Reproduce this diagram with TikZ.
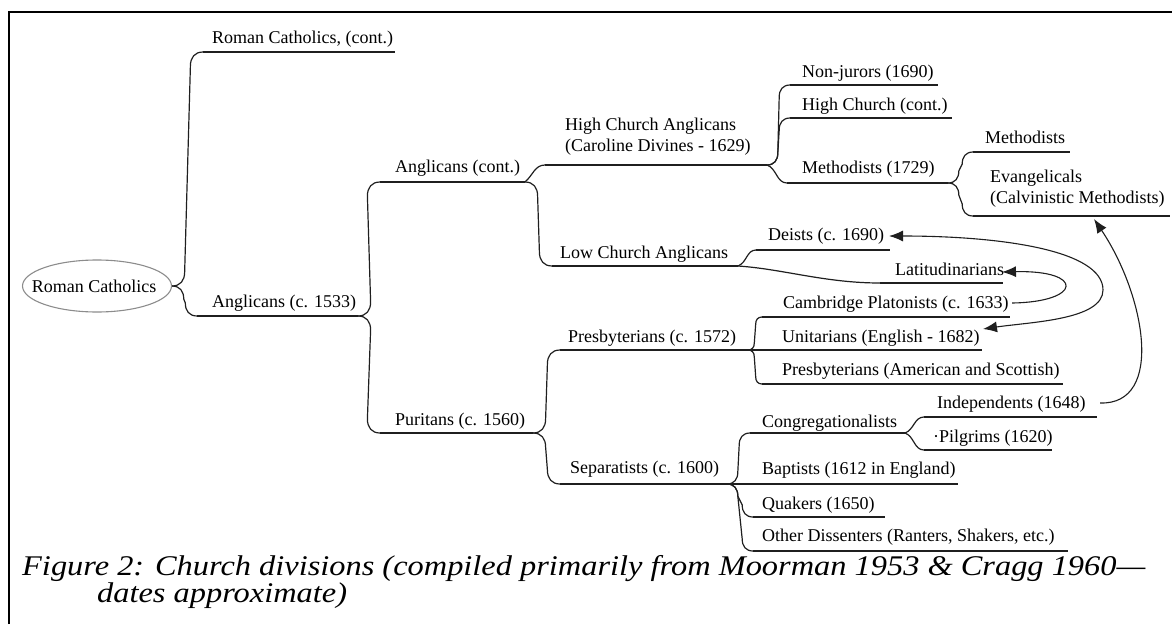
\documentclass[tikz,border=0pt]{standalone}
\usepackage{fontspec}
\setmainfont{Liberation Serif}
\usetikzlibrary{calc,arrows.meta,shapes.geometric}
\begin{document}
\begin{tikzpicture}[x=1pt,y=-1pt,
  lbl/.style={anchor=base west, inner sep=0pt, align=left, font=\fontsize{18}{20.5}\selectfont},
  uline/.style={line width=1.3pt, draw=black!88},
  conn/.style={line width=1.2pt, draw=black!88},
  arr/.style={line width=1.1pt, draw=black!88},
  tip/.style={-{Latex[length=14pt,width=11pt]}},
  caption/.style={anchor=base west, inner sep=0pt, font=\fontsize{30}{30}\selectfont\itshape},
  brdn/.style={to path={(\tikztostart) .. controls +(0.6*#1,0) and +(0,-0.6*#1) .. ($(\tikztostart)+(0.9*#1,#1)$) -- ($(\tikztotarget)+(-0.9*#1,-#1)$) .. controls +(0,0.6*#1) and +(-0.6*#1,0) .. (\tikztotarget)}},
  brdn/.default=12,
  brup/.style={to path={(\tikztostart) .. controls +(0.6*#1,0) and +(0,0.6*#1) .. ($(\tikztostart)+(0.9*#1,-#1)$) -- ($(\tikztotarget)+(-0.9*#1,#1)$) .. controls +(0,-0.6*#1) and +(-0.6*#1,0) .. (\tikztotarget)}},
  brup/.default=12,
  sbr/.style={out=#1,in=180},
  sbr/.default=0]
\useasboundingbox (0,0) rectangle (1172,624);
% frame
\draw[line width=1.2pt] (9,624) -- (9,12) -- (1172,12);

% root
\node[ellipse, draw=black!45, line width=1.1pt, minimum width=149pt, minimum height=52pt, inner sep=0pt] (rc) at (97,286) {};
\node[inner sep=0pt, font=\fontsize{18}{20.5}\selectfont] (rct) at ([xshift=-3pt]rc.center) {Roman Catholics};

% underline coordinates
\coordinate (rcc-s) at (203,52);  \coordinate (rcc-e) at (395,52);
\coordinate (ang-s) at (197,316); \coordinate (ang-e) at (358,316);
\coordinate (angc-s) at (380,182); \coordinate (angc-e) at (525,182);
\coordinate (pur-s) at (380,433); \coordinate (pur-e) at (533,433);
\coordinate (hca-s) at (545,165); \coordinate (hca-e) at (767,165);
\coordinate (lca-s) at (552,266); \coordinate (lca-e) at (738,266);
\coordinate (nj-s) at (790,85);   \coordinate (nj-e) at (938,85);
\coordinate (hcc-s) at (790,118); \coordinate (hcc-e) at (952,118);
\coordinate (m29-s) at (787,183); \coordinate (m29-e) at (948,183);
\coordinate (met-s) at (973,152); \coordinate (met-e) at (1070,152);
\coordinate (eva-s) at (973,216); \coordinate (eva-e) at (1170,216);
\coordinate (dei-s) at (756,250); \coordinate (dei-e) at (890,250);
\coordinate (lat-s) at (880,283); \coordinate (lat-e) at (1003,283);
\coordinate (cam-s) at (762,317); \coordinate (cam-e) at (1010,317);
\coordinate (pre-s) at (560,350); \coordinate (pre-e) at (748,350);
\coordinate (uni-e) at (982,350);
\coordinate (pas-s) at (762,384); \coordinate (pas-e) at (1063,384);
\coordinate (sep-s) at (560,484); \coordinate (sep-e) at (727,484);
\coordinate (con-s) at (750,433); \coordinate (con-e) at (905,433);
\coordinate (bap-e) at (958,484);
\coordinate (qua-s) at (753,517); \coordinate (qua-e) at (885,517);
\coordinate (od-s) at (753,551);  \coordinate (od-e) at (1068,551);
\coordinate (ind-s) at (924,417); \coordinate (ind-e) at (1097,417);
\coordinate (pil-s) at (924,450); \coordinate (pil-e) at (1052,450);

% labels
\node[lbl] (rcc) at (212,43) {Roman Catholics, (cont.)};
\node[lbl] (ang) at (212,307) {Anglicans (c. 1533)};
\node[lbl] (angc) at (395,172) {Anglicans (cont.)};
\node[lbl] (pur) at (395,425) {Puritans (c. 1560)};
\node[lbl] (hca) at (565,151) {High Church Anglicans\\(Caroline Divines - 1629)};
\node[lbl] (lca) at (560,258) {Low Church Anglicans};
\node[lbl] (nj) at (802,77) {Non-jurors (1690)};
\node[lbl] (hcc) at (802,110) {High Church (cont.)};
\node[lbl] (m29) at (802,173) {Methodists (1729)};
\node[lbl] (met) at (985,143) {Methodists};
\node[lbl] (eva) at (990,203) {Evangelicals\\(Calvinistic Methodists)};
\node[lbl] (dei) at (768,240) {Deists (c. 1690)};
\node[lbl] (lat) at (895,275) {Latitudinarians};
\node[lbl] (cam) at (783,308) {Cambridge Platonists (c. 1633)};
\node[lbl] (pre) at (568,342) {Presbyterians (c. 1572)};
\node[lbl] (uni) at (782,342) {Unitarians (English - 1682)};
\node[lbl] (pas) at (782,375) {Presbyterians (American and Scottish)};
\node[lbl] (sep) at (570,473) {Separatists (c. 1600)};
\node[lbl] (con) at (762,427) {Congregationalists};
\node[lbl] (bap) at (762,474) {Baptists (1612 in England)};
\node[lbl] (qua) at (762,509) {Quakers (1650)};
\node[lbl] (od) at (762,541) {Other Dissenters (Ranters, Shakers, etc.)};
\node[lbl] (ind) at (937,408) {Independents (1648)};
\node[lbl] (pil) at (933,442) {·Pilgrims (1620)};

% underlines
\foreach \n in {rcc,ang,angc,pur,hca,lca,nj,hcc,m29,met,eva,dei,lat,cam,pre,pas,sep,con,qua,od,ind,pil}
  \draw[uline] (\n-s) -- (\n-e);
\draw[uline] (pre-e) -- (uni-e);
\draw[uline] (sep-e) -- (bap-e);

% connectors
\draw[conn] (rc.east) to[brup=14] (rcc-s);
\draw[conn] (rc.east) to[brdn=13] (ang-s);
\draw[conn] (ang-e) to[brup=14] (angc-s);
\draw[conn] (ang-e) to[brdn=14] (pur-s);
\draw[conn] (angc-e) to[sbr=40] (hca-s);
\draw[conn] (angc-e) to[brdn=14] (lca-s);
\draw[conn] (hca-e) to[brup=12] (nj-s);
\draw[conn] (hca-e) to[brup=12] (hcc-s);
\draw[conn] (hca-e) to[sbr=-20] (m29-s);
\draw[conn] (m29-e) to[brup=12] (met-s);
\draw[conn] (m29-e) to[brdn=12] (eva-s);
\draw[conn] (lca-e) to[sbr=20] (dei-s);
\draw[conn] (lca-e) .. controls +(45,3) and +(-55,0) .. (lat-s);
\draw[conn] (pur-e) to[brup=14] (pre-s);
\draw[conn] (pur-e) to[brdn=14] (sep-s);
\draw[conn] (pre-e) to[brup=7] (cam-s);
\draw[conn] (pre-e) to[brdn=7] (pas-s);
\draw[conn] (sep-e) to[brup=12] (con-s);
\draw[conn] (sep-e) to[brdn=12] (qua-s);
\draw[conn] (sep-e) to[brdn=12] (od-s);
\draw[conn] (con-e) to[sbr=20] (ind-s);
\draw[conn] (con-e) to[sbr=-20] (pil-s);

% cross-link arrows
\coordinate (a1s) at (1100,403); \coordinate (a1t) at (1094,219);
\coordinate (dei-a) at (889,236); \coordinate (uni-a) at (983,329);
\coordinate (cam-a) at (1012,303); \coordinate (lat-a) at (1002,272);
\draw[arr, tip] (a1s) .. controls (1165,405) and (1145,295) .. (a1t);
\draw[arr, {Latex[length=14pt,width=11pt]}-{Latex[length=14pt,width=11pt]}]
  (dei-a) .. controls (1000,236) and (1103,250) .. (1103,290)
          .. controls (1103,320) and (1030,322) .. (uni-a);
\draw[arr, tip] (cam-a) .. controls (1082,302) and (1085,270) .. (lat-a);

% caption
\node[caption] (cap1) at (22,575)
  {\scalebox{1.08}[0.95]{Figure 2: Church divisions (compiled primarily from Moorman 1953 \& Cragg 1960—}};
\node[caption] (cap2) at (97,602)
  {\scalebox{1.08}[0.95]{dates approximate)}};
\end{tikzpicture}
\end{document}
